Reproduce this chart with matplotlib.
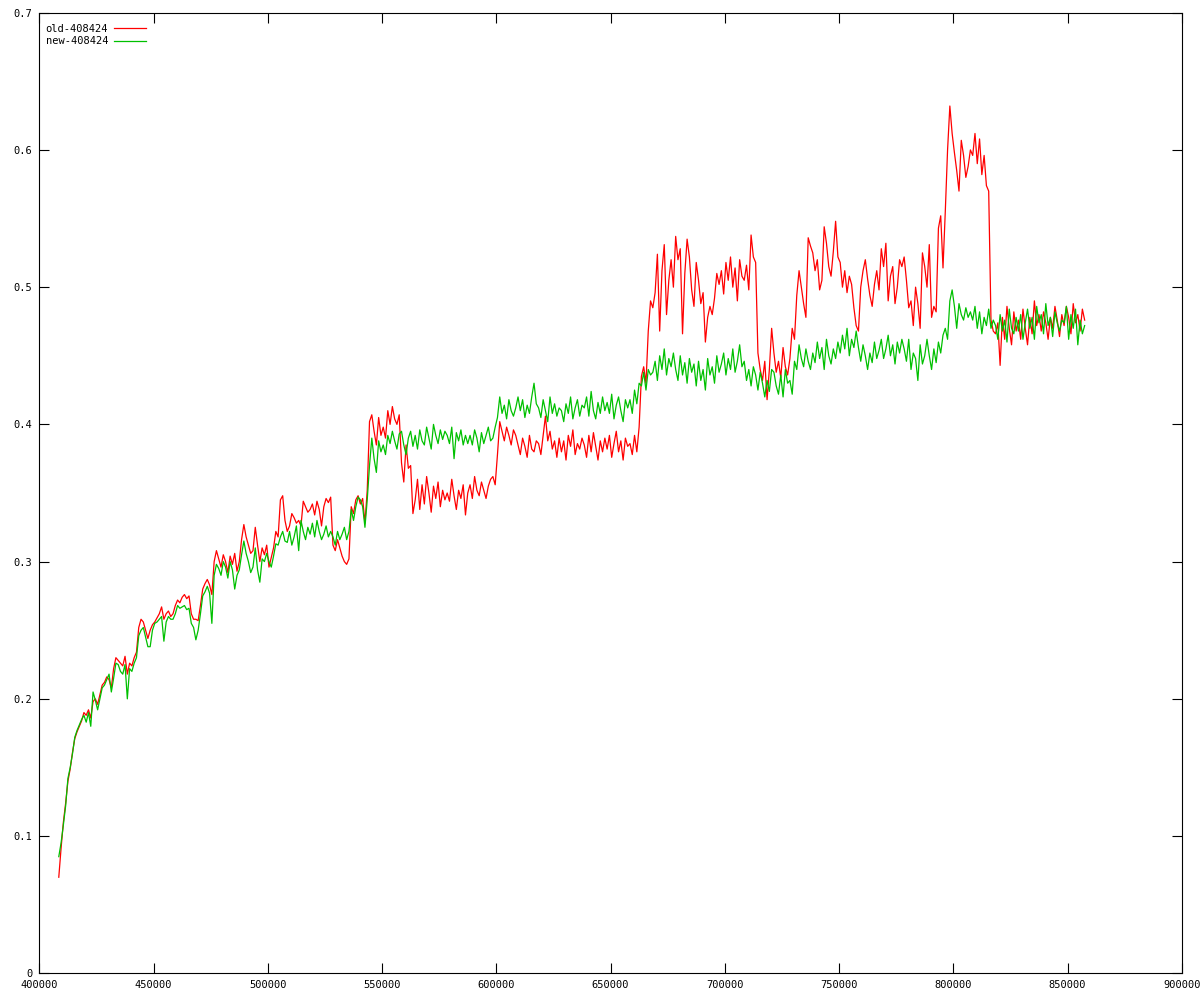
import numpy as np
import matplotlib
matplotlib.use("Agg")
import matplotlib.pyplot as plt

plt.rcParams['font.family'] = ['DejaVu Sans Mono']

# sampled every 1000 units starting at 408500
x_start = 408500
x_step = 1000

old_408424 = [
    0.070, 0.091, 0.110, 0.124, 0.140, 0.149, 0.161, 0.171, 0.176, 0.180,
    0.184, 0.190, 0.188, 0.192, 0.186, 0.198, 0.200, 0.196, 0.203, 0.210,
    0.212, 0.216, 0.214, 0.208, 0.222, 0.230, 0.228, 0.226, 0.224, 0.231,
    0.218, 0.226, 0.224, 0.230, 0.234, 0.252, 0.258, 0.256, 0.250, 0.244,
    0.250, 0.254, 0.256, 0.259, 0.262, 0.267, 0.258, 0.262, 0.264, 0.260,
    0.262, 0.268, 0.272, 0.270, 0.274, 0.276, 0.273, 0.275, 0.262, 0.258,
    0.258, 0.257, 0.268, 0.280, 0.284, 0.287, 0.283, 0.276, 0.300, 0.308,
    0.302, 0.296, 0.305, 0.300, 0.292, 0.304, 0.298, 0.306, 0.293, 0.300,
    0.316, 0.327, 0.318, 0.312, 0.306, 0.308, 0.325, 0.312, 0.300, 0.310,
    0.305, 0.312, 0.296, 0.303, 0.310, 0.322, 0.318, 0.345, 0.348, 0.330,
    0.322, 0.326, 0.335, 0.332, 0.328, 0.330, 0.326, 0.344, 0.340, 0.336,
    0.338, 0.342, 0.334, 0.344, 0.338, 0.326, 0.340, 0.346, 0.343, 0.347,
    0.312, 0.308, 0.316, 0.310, 0.304, 0.300, 0.298, 0.302, 0.340, 0.335,
    0.345, 0.348, 0.342, 0.346, 0.328, 0.352, 0.402, 0.407, 0.395, 0.385,
    0.405, 0.392, 0.398, 0.390, 0.410, 0.400, 0.413, 0.404, 0.400, 0.407,
    0.372, 0.358, 0.385, 0.368, 0.370, 0.335, 0.345, 0.360, 0.338, 0.356,
    0.342, 0.362, 0.350, 0.336, 0.355, 0.346, 0.358, 0.340, 0.352, 0.345,
    0.350, 0.344, 0.360, 0.348, 0.338, 0.352, 0.346, 0.356, 0.334, 0.350,
    0.356, 0.346, 0.362, 0.352, 0.348, 0.358, 0.352, 0.346, 0.355, 0.360,
    0.362, 0.356, 0.378, 0.402, 0.395, 0.388, 0.398, 0.392, 0.385, 0.396,
    0.392, 0.385, 0.378, 0.390, 0.384, 0.376, 0.392, 0.382, 0.380, 0.388,
    0.386, 0.378, 0.392, 0.406, 0.388, 0.395, 0.382, 0.388, 0.376, 0.390,
    0.380, 0.388, 0.374, 0.392, 0.384, 0.396, 0.378, 0.386, 0.382, 0.390,
    0.385, 0.376, 0.392, 0.380, 0.394, 0.384, 0.374, 0.388, 0.380, 0.390,
    0.382, 0.392, 0.376, 0.386, 0.395, 0.380, 0.388, 0.374, 0.390, 0.384,
    0.386, 0.378, 0.392, 0.380, 0.398, 0.435, 0.442, 0.430, 0.468, 0.490,
    0.485, 0.496, 0.524, 0.468, 0.512, 0.531, 0.480, 0.505, 0.520, 0.500,
    0.537, 0.520, 0.528, 0.466, 0.510, 0.535, 0.522, 0.498, 0.486, 0.518,
    0.505, 0.488, 0.496, 0.460, 0.478, 0.486, 0.480, 0.492, 0.510, 0.502,
    0.512, 0.495, 0.518, 0.505, 0.522, 0.500, 0.514, 0.490, 0.520, 0.508,
    0.505, 0.516, 0.498, 0.538, 0.522, 0.518, 0.452, 0.440, 0.432, 0.446,
    0.418, 0.440, 0.470, 0.452, 0.438, 0.446, 0.434, 0.456, 0.442, 0.436,
    0.448, 0.470, 0.462, 0.494, 0.512, 0.500, 0.488, 0.478, 0.536, 0.530,
    0.525, 0.512, 0.520, 0.498, 0.505, 0.544, 0.532, 0.515, 0.508, 0.526,
    0.548, 0.522, 0.518, 0.500, 0.512, 0.496, 0.508, 0.502, 0.485, 0.472,
    0.468, 0.500, 0.512, 0.520, 0.506, 0.494, 0.486, 0.502, 0.512, 0.498,
    0.528, 0.515, 0.532, 0.490, 0.508, 0.515, 0.488, 0.500, 0.520, 0.515,
    0.522, 0.505, 0.485, 0.490, 0.472, 0.500, 0.488, 0.470, 0.525, 0.515,
    0.500, 0.531, 0.478, 0.486, 0.482, 0.543, 0.552, 0.514, 0.555, 0.600,
    0.632, 0.612, 0.598, 0.585, 0.570, 0.607, 0.596, 0.580, 0.588, 0.600,
    0.596, 0.612, 0.590, 0.608, 0.582, 0.596, 0.574, 0.570, 0.476, 0.468,
    0.466, 0.474, 0.443, 0.478, 0.462, 0.486, 0.470, 0.458, 0.482, 0.468,
    0.476, 0.462, 0.484, 0.470, 0.458, 0.478, 0.466, 0.490, 0.472, 0.480,
    0.468, 0.482, 0.474, 0.462, 0.478, 0.470, 0.486, 0.476, 0.464, 0.480,
    0.472, 0.486, 0.478, 0.466, 0.488, 0.474, 0.480, 0.468, 0.484, 0.476,
]

new_408424 = [
    0.085, 0.095, 0.108, 0.122, 0.142, 0.150, 0.160, 0.172, 0.177, 0.181,
    0.185, 0.188, 0.183, 0.190, 0.180, 0.205, 0.199, 0.192, 0.200, 0.208,
    0.210, 0.214, 0.218, 0.205, 0.215, 0.226, 0.225, 0.220, 0.218, 0.225,
    0.200, 0.222, 0.220, 0.226, 0.230, 0.246, 0.250, 0.252, 0.245, 0.238,
    0.238, 0.250, 0.255, 0.256, 0.258, 0.260, 0.242, 0.256, 0.260, 0.258,
    0.258, 0.262, 0.268, 0.266, 0.267, 0.268, 0.265, 0.266, 0.255, 0.252,
    0.243, 0.250, 0.262, 0.275, 0.278, 0.282, 0.277, 0.255, 0.290, 0.298,
    0.295, 0.290, 0.300, 0.296, 0.288, 0.300, 0.294, 0.280, 0.290, 0.294,
    0.305, 0.315, 0.306, 0.300, 0.292, 0.296, 0.310, 0.294, 0.285, 0.302,
    0.300, 0.306, 0.300, 0.296, 0.304, 0.313, 0.312, 0.318, 0.322, 0.315,
    0.314, 0.322, 0.312, 0.318, 0.326, 0.308, 0.330, 0.322, 0.316, 0.325,
    0.320, 0.328, 0.318, 0.330, 0.322, 0.316, 0.320, 0.326, 0.318, 0.322,
    0.318, 0.312, 0.322, 0.316, 0.320, 0.325, 0.316, 0.322, 0.338, 0.330,
    0.340, 0.347, 0.345, 0.340, 0.325, 0.345, 0.370, 0.390, 0.375, 0.365,
    0.388, 0.380, 0.385, 0.378, 0.392, 0.386, 0.395, 0.388, 0.382, 0.393,
    0.395, 0.385, 0.378, 0.390, 0.395, 0.384, 0.392, 0.382, 0.396, 0.388,
    0.385, 0.398, 0.390, 0.382, 0.400, 0.392, 0.386, 0.396, 0.389, 0.395,
    0.392, 0.386, 0.398, 0.375, 0.394, 0.388, 0.396, 0.385, 0.392, 0.386,
    0.392, 0.385, 0.396, 0.390, 0.380, 0.394, 0.386, 0.392, 0.398, 0.388,
    0.390, 0.398, 0.405, 0.420, 0.408, 0.414, 0.404, 0.418, 0.410, 0.406,
    0.412, 0.420, 0.410, 0.418, 0.405, 0.414, 0.408, 0.420, 0.430, 0.415,
    0.412, 0.405, 0.418, 0.410, 0.402, 0.420, 0.408, 0.415, 0.406, 0.412,
    0.410, 0.402, 0.415, 0.408, 0.420, 0.404, 0.412, 0.418, 0.406, 0.414,
    0.412, 0.420, 0.406, 0.424, 0.410, 0.404, 0.416, 0.408, 0.420, 0.410,
    0.416, 0.408, 0.422, 0.404, 0.414, 0.420, 0.410, 0.402, 0.418, 0.412,
    0.418, 0.408, 0.425, 0.415, 0.430, 0.428, 0.438, 0.425, 0.440, 0.436,
    0.438, 0.446, 0.432, 0.450, 0.440, 0.455, 0.436, 0.448, 0.442, 0.452,
    0.440, 0.432, 0.450, 0.436, 0.445, 0.430, 0.448, 0.438, 0.444, 0.428,
    0.446, 0.432, 0.440, 0.425, 0.448, 0.436, 0.442, 0.430, 0.450, 0.438,
    0.444, 0.452, 0.436, 0.448, 0.440, 0.455, 0.438, 0.446, 0.458, 0.442,
    0.446, 0.432, 0.440, 0.428, 0.442, 0.436, 0.425, 0.438, 0.430, 0.420,
    0.432, 0.424, 0.440, 0.438, 0.428, 0.422, 0.436, 0.420, 0.440, 0.430,
    0.432, 0.422, 0.446, 0.440, 0.458, 0.448, 0.442, 0.455, 0.446, 0.440,
    0.452, 0.445, 0.460, 0.448, 0.456, 0.440, 0.462, 0.450, 0.444, 0.455,
    0.448, 0.460, 0.452, 0.465, 0.455, 0.470, 0.450, 0.462, 0.456, 0.468,
    0.456, 0.446, 0.458, 0.450, 0.440, 0.452, 0.445, 0.460, 0.448, 0.454,
    0.462, 0.448, 0.455, 0.465, 0.450, 0.458, 0.444, 0.460, 0.452, 0.462,
    0.455, 0.446, 0.462, 0.440, 0.452, 0.448, 0.432, 0.458, 0.444, 0.450,
    0.462, 0.450, 0.440, 0.455, 0.445, 0.460, 0.452, 0.465, 0.470, 0.462,
    0.490, 0.498, 0.486, 0.470, 0.488, 0.480, 0.476, 0.485, 0.478, 0.482,
    0.476, 0.486, 0.470, 0.482, 0.466, 0.478, 0.472, 0.484, 0.470, 0.476,
    0.472, 0.462, 0.480, 0.468, 0.476, 0.460, 0.484, 0.470, 0.466, 0.478,
    0.468, 0.480, 0.462, 0.474, 0.484, 0.470, 0.478, 0.462, 0.486, 0.474,
    0.480, 0.466, 0.488, 0.472, 0.478, 0.464, 0.482, 0.474, 0.468, 0.476,
    0.474, 0.486, 0.462, 0.480, 0.470, 0.484, 0.458, 0.476, 0.466, 0.472,
]

x_ticks = [400000, 450000, 500000, 550000, 600000, 650000, 700000, 750000, 800000, 850000, 900000]
y_ticks = [0, 0.1, 0.2, 0.3, 0.4, 0.5, 0.6, 0.7]
y_tick_labels = ["0", "0.1", "0.2", "0.3", "0.4", "0.5", "0.6", "0.7"]

x = x_start + x_step * np.arange(len(old_408424))

fig = plt.figure(figsize=(12, 10), dpi=100)
ax = fig.add_axes([0.0328, 0.0267, 0.952, 0.9606])

ax.plot(x, old_408424, color="#ff0000", lw=0.9, label="old-408424")
ax.plot(x, new_408424, color="#00c000", lw=0.9, label="new-408424")

ax.set_xlim(400000, 900000)
ax.set_ylim(0, 0.7)
ax.set_xticks(x_ticks)
ax.set_xticklabels([str(t) for t in x_ticks])
ax.set_yticks(y_ticks)
ax.set_yticklabels(y_tick_labels)
ax.tick_params(direction="in", length=7, width=0.8, top=True, right=True,
               labelsize=7.5, pad=5)
for s in ax.spines.values():
    s.set_linewidth(0.8)

ax.legend(loc="upper left", bbox_to_anchor=(0.0, 0.995), frameon=False,
          markerfirst=False, handlelength=3.0, handletextpad=0.6,
          fontsize=7.5, labelspacing=0.25, borderaxespad=0.2)

fig.savefig("out.png", dpi=100)
